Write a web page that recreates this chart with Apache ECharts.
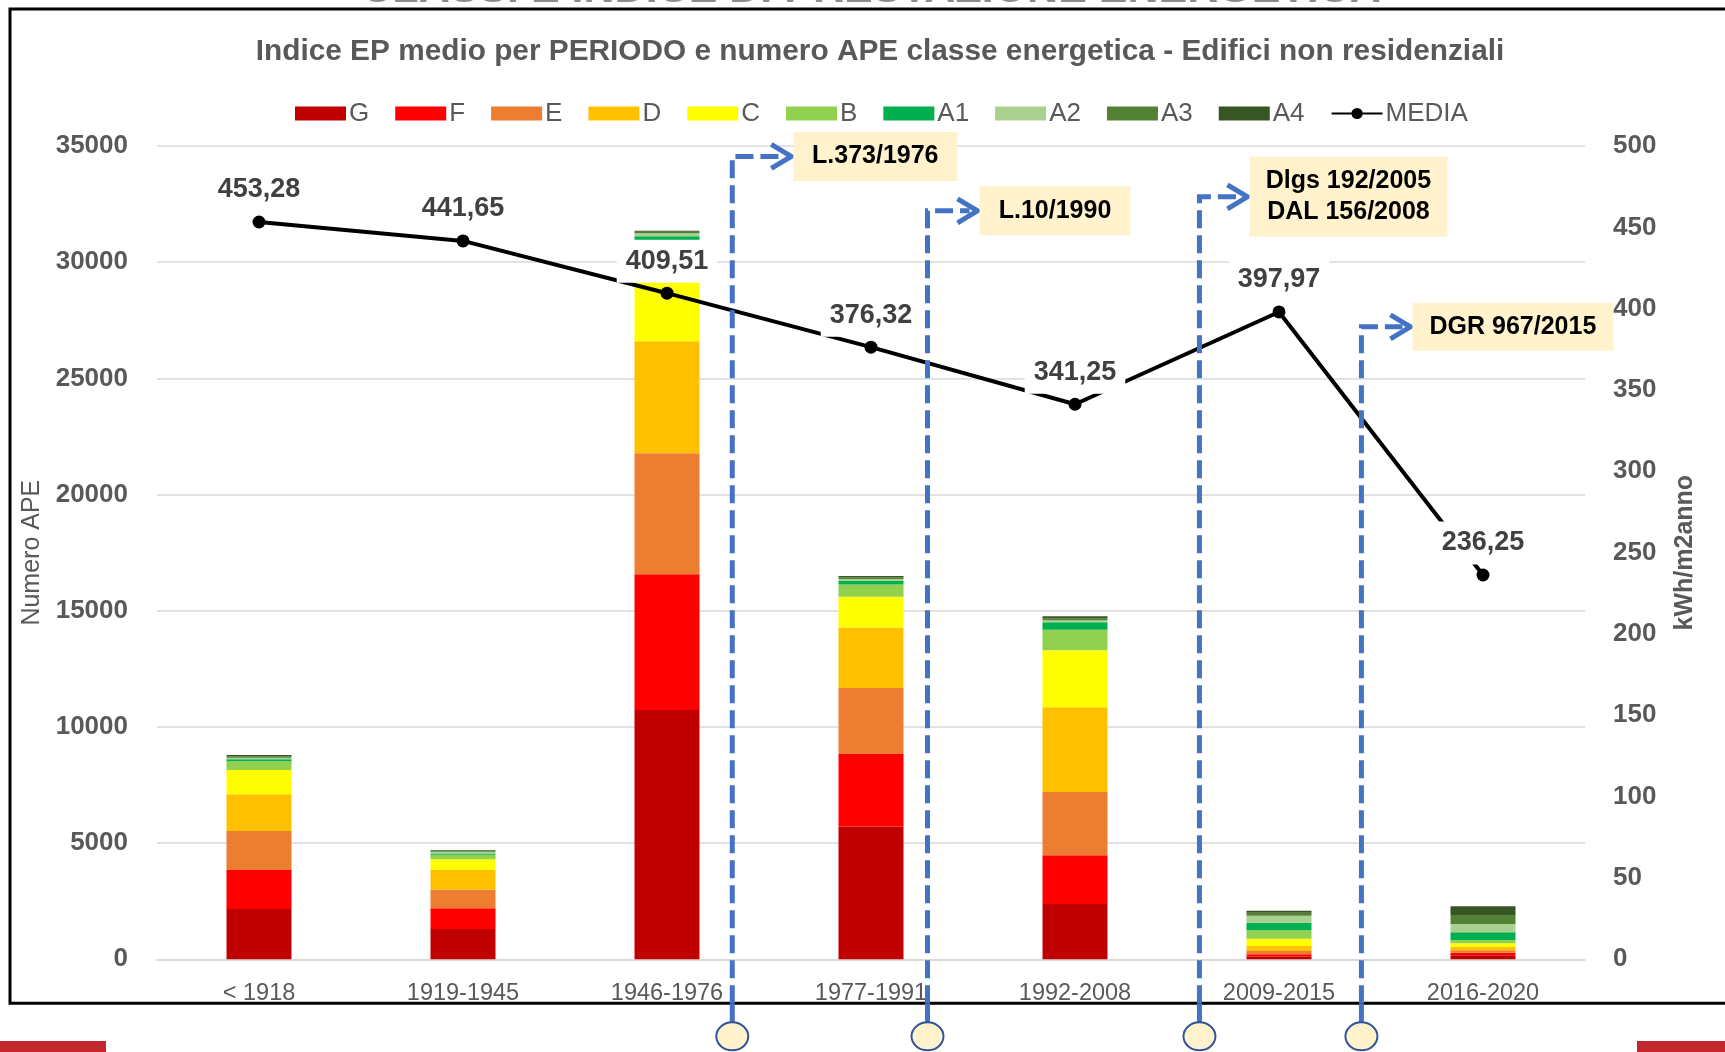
<!DOCTYPE html>
<html>
<head>
<meta charset="utf-8">
<script src="https://cdn.jsdelivr.net/npm/echarts@6/dist/echarts.min.js"></script>
<style>
html,body{margin:0;padding:0;background:#fff;}
#chart{width:1725px;height:1052px;}
</style>
</head>
<body>
<div id="chart"></div>
<script>
// ---- data ----
const categories = ['< 1918', '1919-1945', '1946-1976', '1977-1991', '1992-2008', '2009-2015', '2016-2020'];
const classG  = [2160, 1300, 10730, 5720, 2380, 115, 172];
const classF  = [1680, 900, 5840, 3110, 2095, 100, 115];
const classE  = [1680, 790, 5205, 2840, 2725, 143, 100];
const classD  = [1580, 850, 4820, 2610, 3645, 215, 158];
const classC  = [1045, 470, 2625, 1320, 2455, 315, 143];
const classB  = [375, 185, 1700, 530, 885, 358, 143];
const classA1 = [85, 60, 200, 155, 320, 330, 330];
const classA2 = [70, 70, 120, 85, 85, 301, 358];
const classA3 = [60, 40, 70, 75, 85, 129, 387];
const classA4 = [55, 30, 40, 55, 85, 86, 373];
const media   = [453.28, 441.65, 409.51, 376.32, 341.25, 397.97, 236.25];
const leftTicks = { min: 0, max: 35000, interval: 5000 };
const rightTicks = { min: 0, max: 500, interval: 50 };
const laws = ['L.373/1976', 'L.10/1990', 'Dlgs 192/2005\nDAL 156/2008', 'DGR 967/2015'];

// ---- styling ----
const FONT = "'Liberation Sans', Arial, sans-serif";
const GRAY = '#595959';
const classes = [
  { name: 'G',  data: classG,  color: '#c00000' },
  { name: 'F',  data: classF,  color: '#ff0000' },
  { name: 'E',  data: classE,  color: '#ed7d31' },
  { name: 'D',  data: classD,  color: '#ffc000' },
  { name: 'C',  data: classC,  color: '#ffff00' },
  { name: 'B',  data: classB,  color: '#92d050' },
  { name: 'A1', data: classA1, color: '#00b050' },
  { name: 'A2', data: classA2, color: '#a9d08e' },
  { name: 'A3', data: classA3, color: '#548235' },
  { name: 'A4', data: classA4, color: '#375623' }
];

const chart = echarts.init(document.getElementById('chart'), null, { renderer: 'canvas' });

const series = classes.map(c => ({
  name: c.name,
  type: 'bar',
  stack: 'tot',
  barWidth: 65,
  data: c.data,
  itemStyle: { color: c.color },
  emphasis: { disabled: true }
}));
series.push({
  name: 'MEDIA',
  type: 'line',
  yAxisIndex: 1,
  data: media,
  z: 5,
  symbol: 'circle',
  symbolSize: 13,
  lineStyle: { color: '#000', width: 4 },
  itemStyle: { color: '#000' },
  label: {
    show: true,
    position: 'top',
    distance: 4,
    formatter: p => p.value.toFixed(2).replace('.', ','),
    fontFamily: FONT,
    fontSize: 27,
    fontWeight: 'bold',
    color: '#404040',
    backgroundColor: '#fff',
    padding: [8, 9]
  },
  emphasis: { disabled: true }
});

chart.setOption({
  animation: false,
  backgroundColor: '#fff',
  textStyle: { fontFamily: FONT },
  title: {
    text: 'Indice EP medio per PERIODO e numero APE classe energetica - Edifici non residenziali',
    left: 875,
    textAlign: 'center',
    top: 32,
    textStyle: { fontFamily: FONT, fontSize: 29.8, fontWeight: 'bold', color: GRAY }
  },
  legend: {
    left: 295,
    top: 100.5,
    padding: 0,
    itemWidth: 51,
    itemHeight: 14,
    itemGap: 26,
    textStyle: { fontFamily: FONT, fontSize: 26, color: GRAY, padding: [0, 0, 0, -2] },
    data: classes.map(c => ({ name: c.name, icon: 'rect' })).concat([{ name: 'MEDIA' }])
  },
  grid: { left: 157, right: 140, top: 146, bottom: 92.7 },
  xAxis: {
    type: 'category',
    data: categories,
    axisLine: { show: true, lineStyle: { color: '#d9d9d9', width: 1.5 } },
    axisTick: { show: false },
    axisLabel: { fontFamily: FONT, fontSize: 23.5, color: GRAY, margin: 22 }
  },
  yAxis: [
    {
      type: 'value',
      min: leftTicks.min, max: leftTicks.max, interval: leftTicks.interval,
      name: 'Numero APE',
      nameLocation: 'middle',
      nameRotate: 90,
      nameGap: 112,
      nameTextStyle: { fontFamily: FONT, fontSize: 25, color: GRAY },
      axisLine: { show: false },
      axisTick: { show: false },
      axisLabel: { fontFamily: FONT, fontSize: 26, fontWeight: 'bold', color: GRAY, margin: 29,
        formatter: v => String(v) },
      splitLine: { lineStyle: { color: '#d9d9d9', width: 1.5 } }
    },
    {
      type: 'value',
      position: 'right',
      min: rightTicks.min, max: rightTicks.max, interval: rightTicks.interval,
      name: 'kWh/m2anno',
      nameLocation: 'middle',
      nameRotate: 90,
      nameGap: 88,
      nameTextStyle: { fontFamily: FONT, fontSize: 25, fontWeight: 'bold', color: GRAY },
      axisLine: { show: false },
      axisTick: { show: false },
      axisLabel: { fontFamily: FONT, fontSize: 26, fontWeight: 'bold', color: GRAY, margin: 28,
        formatter: v => String(v) },
      splitLine: { show: false }
    }
  ],
  series: series
});

// ---- annotation overlay (law markers) ----
const annot = [
  { pos: 2.32,  yv: 34550, len: 59, w: 164, h: 49 },
  { pos: 3.277, yv: 32210, len: 50, w: 151, h: 49 },
  { pos: 4.61,  yv: 32815, len: 48, w: 198, h: 80 },
  { pos: 5.404, yv: 27220, len: 49, w: 201, h: 48 }
];
const x0 = chart.convertToPixel({ xAxisIndex: 0 }, categories[0]);
const x1 = chart.convertToPixel({ xAxisIndex: 0 }, categories[1]);
const step = x1 - x0;
const y0 = chart.convertToPixel({ yAxisIndex: 0 }, 0);
const frameBottom = y0 + 44;
const circleY = y0 + 77;
const BLUE = '#4472c4';

const g = [];
// slide frame and decorations
g.push({ type: 'rect', z: 1, silent: true, shape: { x: 10, y: 9, width: 1760, height: frameBottom - 9 },
  style: { fill: 'none', stroke: '#000', lineWidth: 3 } });
g.push({ type: 'text', z: 1, silent: true, x: 871, y: 12,
  style: { text: 'CLASSI E INDICE DI PRESTAZIONE ENERGETICA', fontFamily: FONT, fontSize: 43, fontWeight: 'bold',
    fill: '#8c8c8c', textAlign: 'center', textVerticalAlign: 'bottom' } });
g.push({ type: 'rect', z: 1, silent: true, shape: { x: 0, y: 1041, width: 106, height: 11 }, style: { fill: '#c1272d' } });
g.push({ type: 'rect', z: 1, silent: true, shape: { x: 1637, y: 1041, width: 88, height: 11 }, style: { fill: '#c1272d' } });

annot.forEach((a, i) => {
  const lx = x0 + a.pos * step;
  const ty = chart.convertToPixel({ yAxisIndex: 0 }, a.yv);
  const tip = lx + a.len;
  g.push({ type: 'polyline', z: 50, silent: true,
    shape: { points: [[lx, frameBottom], [lx, ty], [tip - 8, ty]] },
    style: { stroke: BLUE, lineWidth: 5, fill: null, lineDash: [18, 7] } });
  g.push({ type: 'line', z: 50, silent: true,
    shape: { x1: lx, y1: frameBottom, x2: lx, y2: circleY - 14 },
    style: { stroke: BLUE, lineWidth: 5 } });
  g.push({ type: 'polyline', z: 51, silent: true,
    shape: { points: [[tip - 20, ty - 12], [tip, ty], [tip - 20, ty + 12]] },
    style: { stroke: BLUE, lineWidth: 5, fill: null } });
  g.push({ type: 'ellipse', z: 52, silent: true,
    shape: { cx: lx, cy: circleY, rx: 16, ry: 14 },
    style: { fill: '#fff2cc', stroke: '#2f5597', lineWidth: 2 } });
  g.push({ type: 'rect', z: 52, silent: true,
    shape: { x: tip + 2, y: ty - a.h / 2, width: a.w, height: a.h },
    style: { fill: '#fff2cc' } });
  g.push({ type: 'text', z: 53, silent: true,
    x: tip + 2 + a.w / 2, y: ty,
    style: { text: laws[i], fontFamily: FONT, fontSize: 25, fontWeight: 'bold', fill: '#000',
      textAlign: 'center', textVerticalAlign: 'middle', lineHeight: 31 } });
});
chart.setOption({ graphic: g });
</script>
</body>
</html>
